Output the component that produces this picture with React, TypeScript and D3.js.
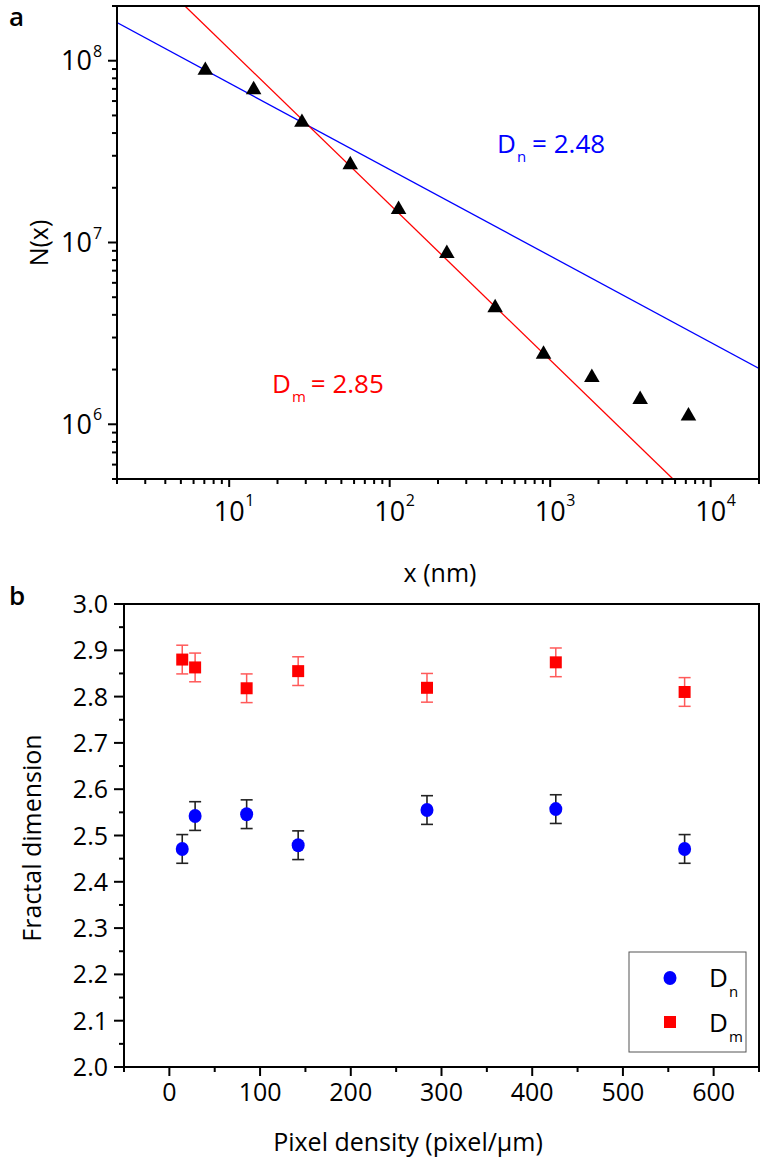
import React from 'react';
import * as d3 from 'd3';

// ---------- Panel a data ----------
const sizeNm = [7.1, 14.2, 28.4, 56.8, 113.6, 227, 454, 909, 1818, 3635, 7270];
const countN = [8.85e7, 6.93e7, 4.58e7, 2.68e7, 1.52e7, 8.7e6, 4.38e6, 2.43e6, 1.81e6, 1.37e6, 1.11e6];
const fitDnX = [2, 2e4];
const fitDnY = [1.62e8, 2.03e6];
const fitDmX = [5.3, 5820];
const fitDmY = [2e8, 5e5];
const topXDomain = [2, 2e4];
const topYDomain = [5e5, 2e8];
const topXMajor = [1, 2, 3, 4];
const topYMajor = [6, 7, 8];

// ---------- Panel b data ----------
const pixelDensity = [14.2, 28.4, 85.2, 142, 284, 426, 568];
const Dn = [2.471, 2.542, 2.546, 2.479, 2.555, 2.557, 2.471];
const DnErr = [0.031, 0.031, 0.031, 0.031, 0.031, 0.031, 0.031];
const Dm = [2.88, 2.863, 2.818, 2.855, 2.819, 2.874, 2.81];
const DmErr = [0.031, 0.031, 0.031, 0.031, 0.031, 0.031, 0.031];
const botXDomain = [-50, 650];
const botYDomain = [2.0, 3.0];
const botXTicks = [0, 100, 200, 300, 400, 500, 600];
const botYTicks = [2.0, 2.1, 2.2, 2.3, 2.4, 2.5, 2.6, 2.7, 2.8, 2.9, 3.0];

const FONT = "'Open Sans', 'DejaVu Sans', sans-serif";
const BLUE = '#0000ff';
const RED = '#ff0000';

export default function App() {
  // Panel a geometry
  const a = { l: 117, r: 759, t: 6, b: 479 };
  const xA = d3.scaleLog().domain(topXDomain).range([a.l, a.r]);
  const yA = d3.scaleLog().domain(topYDomain).range([a.b, a.t]);
  const xATicks = xA.ticks().filter((v) => v >= topXDomain[0] - 1e-9 && v <= topXDomain[1] * 1.0001);
  const yATicks = yA.ticks().filter((v) => v >= topYDomain[0] * 0.9999 && v <= topYDomain[1] * 1.0001);
  const isMajor = (v: number) => Math.abs(Math.log10(v) - Math.round(Math.log10(v))) < 1e-6;
  const line = d3.line<[number, number]>().x((d) => xA(d[0])).y((d) => yA(d[1]));
  const dnLine = line(fitDnX.map((x, i) => [x, fitDnY[i]] as [number, number]));
  const dmLine = line(fitDmX.map((x, i) => [x, fitDmY[i]] as [number, number]));
  const tri = d3.symbol(d3.symbolTriangle, 105)();

  // Panel b geometry
  const b = { l: 124, r: 759, t: 604, b: 1067 };
  const xB = d3.scaleLinear().domain(botXDomain).range([b.l, b.r]);
  const yB = d3.scaleLinear().domain(botYDomain).range([b.b, b.t]);
  const xBMinor = d3.range(-50, 651, 50);
  const yBMinor = d3.range(0, 21).map((i) => 2 + i * 0.05);
  const sq = d3.symbol(d3.symbolSquare, 144)();

  return (
    <svg width={768} height={1165} style={{ position: 'absolute', left: 0, top: 0, background: '#fff' }} fontFamily={FONT}>
      <rect x={0} y={0} width={768} height={1165} fill="#fff" />
      {/* ================= Panel a ================= */}
      <text x={9} y={26} fontSize={26} fontWeight={600}>a</text>
      <defs>
        <clipPath id="clipA">
          <rect x={a.l} y={a.t} width={a.r - a.l} height={a.b - a.t} />
        </clipPath>
      </defs>
      <g clipPath="url(#clipA)">
        <path d={dnLine || ''} stroke={BLUE} strokeWidth={1.3} fill="none" />
        <path d={dmLine || ''} stroke={RED} strokeWidth={1.3} fill="none" />
      </g>
      {sizeNm.map((x, i) => (
        <path key={i} d={tri || ''} transform={`translate(${xA(x)},${yA(countN[i])})`} fill="#000" />
      ))}
      <rect x={a.l} y={a.t} width={a.r - a.l} height={a.b - a.t} fill="none" stroke="#000" strokeWidth={2} />
      {xATicks.map((v, i) => (
        <line key={i} x1={xA(v)} x2={xA(v)} y1={a.b} y2={a.b + (isMajor(v) ? 8 : 5)} stroke="#000" strokeWidth={2} />
      ))}
      {yATicks.map((v, i) => (
        <line key={i} x1={a.l} x2={a.l - (isMajor(v) ? 9 : 5)} y1={yA(v)} y2={yA(v)} stroke="#000" strokeWidth={2} />
      ))}
      {topXMajor.map((e) => (
        <g key={e}>
          <text x={xA(Math.pow(10, e))} y={521} fontSize={27} textAnchor="middle">10</text>
          <text x={xA(Math.pow(10, e)) + 16} y={506} fontSize={16}>{e}</text>
        </g>
      ))}
      {topYMajor.map((e) => (
        <g key={e}>
          <text x={92} y={yA(Math.pow(10, e)) + 9.5} fontSize={27} textAnchor="end">10</text>
          <text x={93} y={yA(Math.pow(10, e)) - 4} fontSize={16}>{e}</text>
        </g>
      ))}
      <text x={440} y={582} fontSize={25} textAnchor="middle">x (nm)</text>
      <text transform={`translate(48,243) rotate(-90)`} fontSize={25} textAnchor="middle">N(x)</text>
      <text x={497} y={153} fontSize={26} fill={BLUE}>
        D<tspan dx={1} dy={9} fontSize={15}>n</tspan>
        <tspan dx={6} dy={-9}>= 2.48</tspan>
      </text>
      <text x={272} y={393} fontSize={26} fill={RED}>
        D<tspan dx={1} dy={9} fontSize={15}>m</tspan>
        <tspan dx={5} dy={-9}>= 2.85</tspan>
      </text>

      {/* ================= Panel b ================= */}
      <text x={9} y={605} fontSize={26} fontWeight={600}>b</text>
      <rect x={b.l} y={b.t} width={b.r - b.l} height={b.b - b.t} fill="none" stroke="#000" strokeWidth={2} />
      {xBMinor.map((v) => (
        <line key={v} x1={xB(v)} x2={xB(v)} y1={b.b} y2={b.b + (v % 100 === 0 ? 9 : 5)} stroke="#000" strokeWidth={2} />
      ))}
      {yBMinor.map((v, i) => (
        <line key={i} x1={b.l} x2={b.l - (i % 2 === 0 ? 10 : 5)} y1={yB(v)} y2={yB(v)} stroke="#000" strokeWidth={2} />
      ))}
      {botXTicks.map((v) => (
        <text key={v} x={xB(v)} y={1101} fontSize={25} textAnchor="middle">{v}</text>
      ))}
      {botYTicks.map((v) => (
        <text key={v} x={108} y={yB(v) + 9} fontSize={25} textAnchor="end">{v.toFixed(1)}</text>
      ))}
      <text x={408} y={1151} fontSize={25} textAnchor="middle">Pixel density (pixel/μm)</text>
      <text transform={`translate(41,838) rotate(-90)`} fontSize={25} textAnchor="middle">Fractal dimension</text>

      {/* error bars Dm */}
      {pixelDensity.map((x, i) => {
        const cx = xB(x);
        const y1 = yB(Dm[i] - DmErr[i]);
        const y2 = yB(Dm[i] + DmErr[i]);
        return (
          <g key={'m' + i} stroke="#ff5a5a" strokeWidth={1.5}>
            <line x1={cx} x2={cx} y1={y1} y2={y2} />
            <line x1={cx - 6} x2={cx + 6} y1={y1} y2={y1} />
            <line x1={cx - 6} x2={cx + 6} y1={y2} y2={y2} />
          </g>
        );
      })}
      {pixelDensity.map((x, i) => {
        const cx = xB(x);
        const y1 = yB(Dn[i] - DnErr[i]);
        const y2 = yB(Dn[i] + DnErr[i]);
        return (
          <g key={'n' + i} stroke="#222" strokeWidth={1.6}>
            <line x1={cx} x2={cx} y1={y1} y2={y2} />
            <line x1={cx - 6} x2={cx + 6} y1={y1} y2={y1} />
            <line x1={cx - 6} x2={cx + 6} y1={y2} y2={y2} />
          </g>
        );
      })}
      {pixelDensity.map((x, i) => (
        <path key={'sm' + i} d={sq || ''} transform={`translate(${xB(x)},${yB(Dm[i])})`} fill={RED} />
      ))}
      {pixelDensity.map((x, i) => (
        <ellipse key={'cn' + i} cx={xB(x)} cy={yB(Dn[i])} rx={6.5} ry={7} fill={BLUE} />
      ))}

      {/* legend */}
      <rect x={629} y={952} width={117} height={100} fill="#fff" stroke="#555" strokeWidth={1} />
      <ellipse cx={670} cy={978} rx={6.5} ry={7} fill={BLUE} />
      <rect x={664} y={1016} width={12} height={12} fill={RED} />
      <text x={709} y={987} fontSize={26}>
        D<tspan dx={1} dy={10} fontSize={15}>n</tspan>
      </text>
      <text x={709} y={1032} fontSize={26}>
        D<tspan dx={1} dy={10} fontSize={15}>m</tspan>
      </text>
    </svg>
  );
}
